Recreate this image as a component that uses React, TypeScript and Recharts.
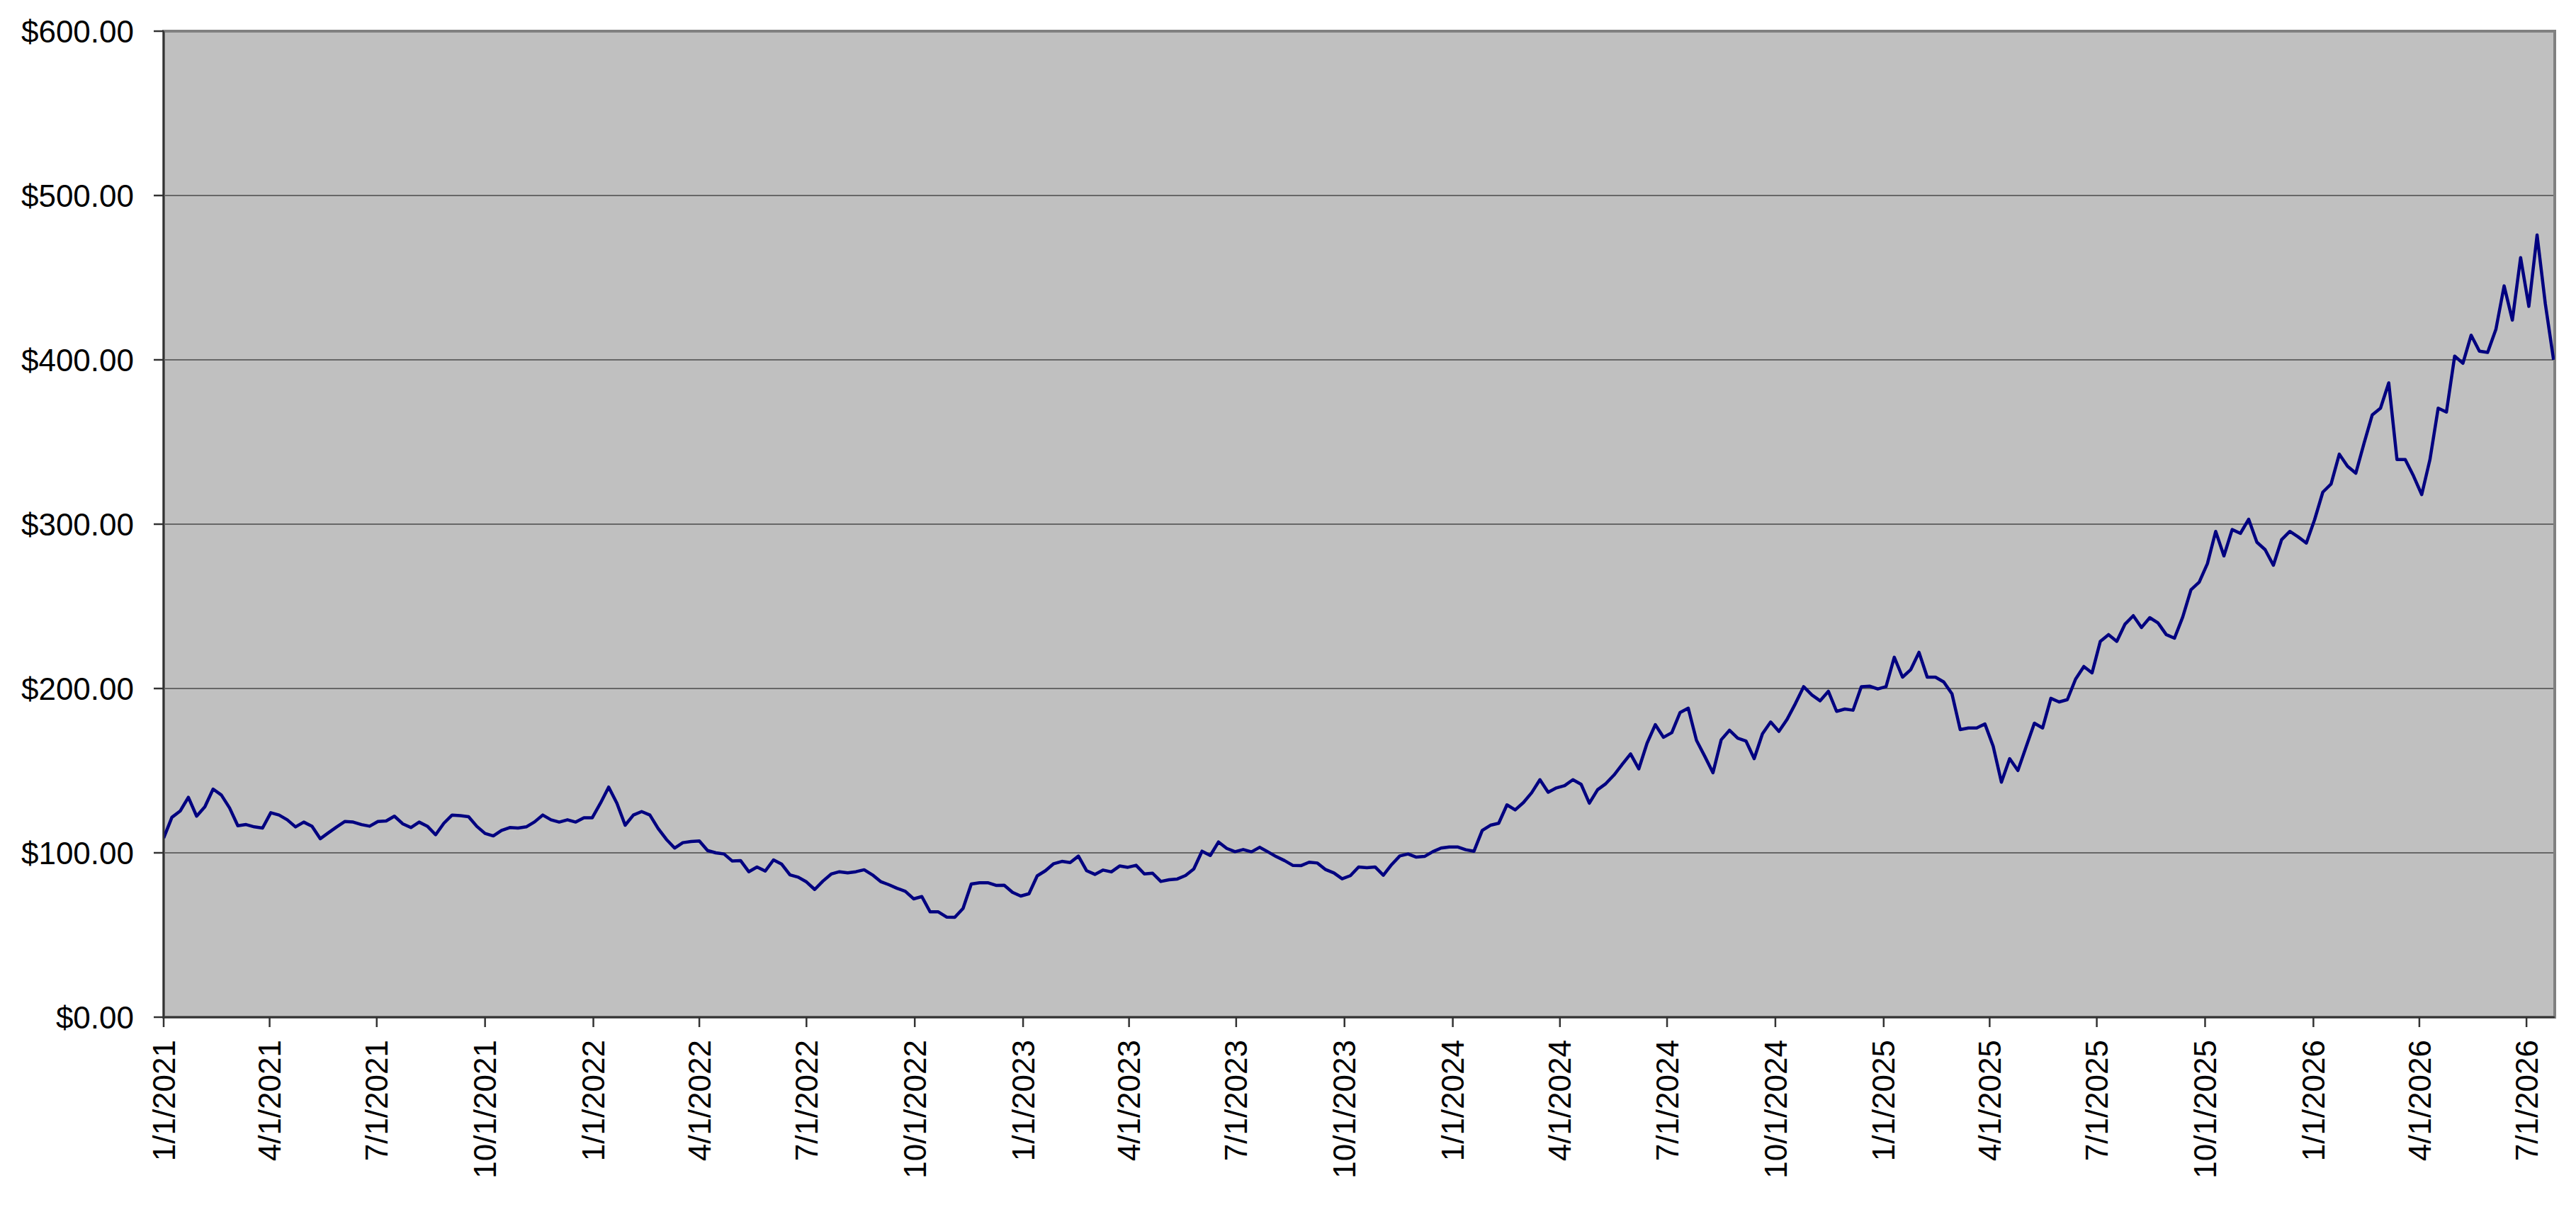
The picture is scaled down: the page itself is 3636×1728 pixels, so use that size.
import React from 'react';
import { LineChart, Line, XAxis, YAxis, CartesianGrid, ReferenceArea } from 'recharts';

// Weekly closing prices (one value every 7 days starting 1/1/2021)
const prices2021 = [
  109, 121.6, 125.4, 133.8, 122.3, 128, 138.8, 135.2, 127.3, 116.5, 117.2, 115.8, 115.1,
  124.4, 123, 120.1, 115.8, 118.7, 116.2, 108.6, 112.2, 115.8, 119.1, 118.7, 117.2, 116.2,
  119.1, 119.4, 122.3, 117.7, 115.4, 118.7, 116.2, 111, 118, 123, 122.6, 122, 116.1,
  111.8, 110.3, 113.6, 115.4, 115.1, 115.8, 118.8, 123, 120.1, 118.7, 120.1, 118.7, 121.3, 121.3,
];
const prices2022 = [
  130.2, 140, 130.2, 116.8, 123, 125.1, 123, 114.8, 108.2, 102.9, 106.2, 106.9, 107.2,
  101.4, 100, 99.3, 95, 95.3, 88.5, 91.4, 88.9, 95.7, 93.1, 86.6, 85.2, 82.3, 77.7,
  82.8, 87.1, 88.5, 87.8, 88.5, 89.7, 86.6, 82.5, 80.6, 78.4, 76.6, 72, 73.4, 64.1,
  64.1, 60.9, 60.8, 66.2, 81, 81.8, 81.8, 80.2, 80.3, 76, 73.7,
];
const prices2023 = [
  75.1, 86, 89.1, 93.4, 94.8, 94.1, 98, 89.1, 86.9, 89.5, 88.4, 92, 91.2, 92.4, 87.2,
  87.6, 82.6, 83.6, 84.1, 86.2, 90.2, 101, 98.4, 106.6, 102.7, 100.7, 102, 100.6, 103.4,
  100.6, 97.7, 95.3, 92.4, 92.2, 94.3, 93.8, 89.8, 87.8, 84.2, 86.1, 91.4, 90.9, 91.4,
  86.4, 92.8, 98.1, 99.3, 97.4, 97.8, 100.7, 102.9, 103.6,
];
const prices2024 = [
  103.6, 101.9, 101, 113.6, 116.8, 118, 129.2, 126.1, 130.6, 136.6, 144.5, 136.9, 139.5,
  140.9, 144.5, 141.7, 130.2, 138.4, 142.1, 147.4, 153.9, 160.2, 151.1, 166.7, 178, 170.3,
  173.1, 185.3, 188, 168.4, 158.8, 148.7, 168.8, 174.6, 169.8, 168.1, 157.3, 172.4, 179.6,
  173.9, 181.3, 190.8, 201.1, 196.1, 192.5, 198.3, 186.1, 187.5, 186.8, 201.1, 201.4, 199.7, 201.1,
];
const prices2025 = [
  219, 206.9, 211.5, 222, 206.9, 206.9, 204, 196.8, 175, 176, 176, 178.4, 164.9, 143,
  157.3, 150.1, 164.5, 178.9, 176, 194, 191.8, 193.2, 205.7, 213.4, 209.5, 228.7, 232.8,
  228.7, 239.2, 244.3, 237.1, 243.1, 239.9, 232.8, 230.6, 243.5, 260.1, 264.7, 276, 295.6,
  280.7, 296.7, 294.4, 303, 289, 284.5, 275, 290.6, 295.6, 292.3, 288.5, 302.7,
];
const prices2026 = [
  319.5, 324.4, 342.6, 335.2, 331, 349.2, 366.5, 370.6, 386, 339.3, 339.3, 329.4, 318,
  339.3, 370.6, 368.2, 402.3, 397.9, 415, 405.3, 404.5, 418.5, 445, 424.2, 462.2, 432.5,
  476, 434.1, 400,
];

const tickLabels = [
  '1/1/2021', '4/1/2021', '7/1/2021', '10/1/2021',
  '1/1/2022', '4/1/2022', '7/1/2022', '10/1/2022',
  '1/1/2023', '4/1/2023', '7/1/2023', '10/1/2023',
  '1/1/2024', '4/1/2024', '7/1/2024', '10/1/2024',
  '1/1/2025', '4/1/2025', '7/1/2025', '10/1/2025',
  '1/1/2026', '4/1/2026', '7/1/2026',
];
const yTicks = [0, 100, 200, 300, 400, 500, 600];

const START = Date.UTC(2021, 0, 1);
const STEP_DAYS = 7;
const LAST_DAY = 2031;

const dayOf = (label: string) => {
  const [m, d, y] = label.split('/').map(Number);
  return Math.round((Date.UTC(y, m - 1, d) - START) / 86400000);
};

const allPrices = [...prices2021, ...prices2022, ...prices2023, ...prices2024, ...prices2025, ...prices2026];
const data = allPrices.map((price, i) => ({ day: i * STEP_DAYS, price }));
const xTicks = tickLabels.map(dayOf);
const labelByDay = new Map<number, string>(xTicks.map((d, i) => [d, tickLabels[i]]));

const FONT = '"Liberation Sans", Arial, sans-serif';

const XTick = (props: any) => {
  const { x, y, payload } = props;
  const ay = y + 18;
  return (
    <text
      x={x}
      y={ay}
      transform={`rotate(-90, ${x}, ${ay})`}
      textAnchor="end"
      dy="0.355em"
      fontFamily={FONT}
      fontSize={44}
      fill="#000"
    >
      {labelByDay.get(payload.value) ?? ''}
    </text>
  );
};

const YTick = (props: any) => {
  const { x, y, payload } = props;
  return (
    <text x={x - 28} y={y} textAnchor="end" dy="0.355em" fontFamily={FONT} fontSize={44} fill="#000">
      {`$${Number(payload.value).toFixed(2)}`}
    </text>
  );
};

export default function App() {
  return (
    <div style={{ position: 'absolute', left: 0, top: 0, width: 3636, height: 1728, background: '#fff' }}>
      <LineChart width={3636} height={1728} data={data} margin={{ top: 44, right: 30, bottom: 0, left: 0 }}>
        <CartesianGrid
          vertical={false}
          fill="#C0C0C0"
          fillOpacity={1}
          stroke="#4a4a4a"
          strokeWidth={1.7}
        />
        <ReferenceArea
          x1={0}
          x2={LAST_DAY}
          y1={0}
          y2={600}
          fill="none"
          stroke="#808080"
          strokeWidth={4}
          ifOverflow="visible"
        />
        <XAxis
          dataKey="day"
          type="number"
          domain={[0, LAST_DAY]}
          ticks={xTicks}
          interval={0}
          height={292}
          tickSize={14}
          tickMargin={0}
          tick={<XTick />}
          stroke="#333"
          strokeWidth={2.5}
          allowDataOverflow
        />
        <YAxis
          type="number"
          domain={[0, 600]}
          ticks={yTicks}
          interval={0}
          width={231}
          tickSize={14}
          tickMargin={0}
          tick={<YTick />}
          stroke="#333"
          strokeWidth={2.5}
        />
        <Line
          type="linear"
          dataKey="price"
          stroke="#000080"
          strokeWidth={4.5}
          strokeLinejoin="round"
          dot={false}
          activeDot={false}
          isAnimationActive={false}
        />
      </LineChart>
    </div>
  );
}
